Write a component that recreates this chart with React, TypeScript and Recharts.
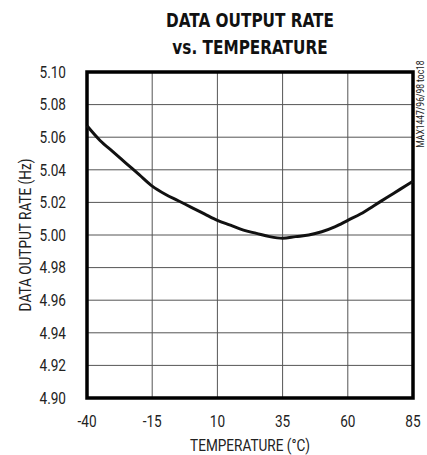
import { LineChart, Line, XAxis, YAxis, CartesianGrid, ReferenceArea, Label } from 'recharts';

const temperatures = [-40, -35, -30, -25, -20, -15, -10, -5, 0, 5, 10, 15, 20, 25, 30, 35, 40, 45, 50, 55, 60, 65, 70, 75, 80, 85];
const rates = [5.067, 5.058, 5.051, 5.044, 5.037, 5.030, 5.025, 5.021, 5.017, 5.013, 5.009, 5.006, 5.003, 5.001, 4.999, 4.998, 4.999, 5.000, 5.002, 5.005, 5.009, 5.013, 5.018, 5.023, 5.028, 5.033];

const xTicks = [-40, -15, 10, 35, 60, 85];
const yTicks = [4.9, 4.92, 4.94, 4.96, 4.98, 5.0, 5.02, 5.04, 5.06, 5.08, 5.1];

const titleLines = ['DATA OUTPUT RATE', 'vs. TEMPERATURE'];
const xLabel = 'TEMPERATURE (°C)';
const yLabel = 'DATA OUTPUT RATE (Hz)';
const sideNote = 'MAX1447/96/98 toc18';

const data = temperatures.map((t, i) => ({ t, rate: rates[i] }));

const font = 'Roboto, sans-serif';
const titleFont = '"DejaVu Sans Condensed", "DejaVu Sans", sans-serif';
const squeeze = 0.85;

// narrow tick text, the reference uses a condensed face
const NarrowTick = (props: any) => {
  const { x, y, payload, textAnchor, vertical } = props;
  const label = vertical ? Number(payload.value).toFixed(2) : String(payload.value);
  return (
    <g transform={`translate(${x},${y})`}>
      <text
        transform={`scale(${squeeze},1)`}
        textAnchor={textAnchor}
        dy={vertical ? '0.36em' : '0.71em'}
        fill="#222"
        fontSize={16}
        fontFamily={font}
      >
        {label}
      </text>
    </g>
  );
};

const axisTitle = (text: string, rotate: boolean, dx: number, dy: number) => (props: any) => {
  const vb = props.viewBox;
  const cx = vb.x + vb.width / 2 + dx;
  const cy = vb.y + vb.height / 2 + dy;
  return (
    <g transform={`translate(${cx},${cy}) rotate(${rotate ? -90 : 0}) scale(${squeeze},1)`}>
      <text textAnchor="middle" dy="0.36em" fill="#222" fontSize={16} fontFamily={font}>
        {text}
      </text>
    </g>
  );
};

export default function App() {
  return (
    <div style={{ position: 'absolute', left: 0, top: 0, width: 427, height: 455, background: '#fff', fontFamily: font }}>
      <div
        style={{
          position: 'absolute',
          left: 87,
          width: 326,
          top: 7,
          textAlign: 'center',
          fontWeight: 'bold',
          fontFamily: titleFont,
          fontSize: 20,
          lineHeight: '27px',
          color: '#111',
          transform: `scaleX(${squeeze})`,
        }}
      >
        {titleLines.map((l) => (
          <div key={l}>{l}</div>
        ))}
      </div>
      <LineChart width={427} height={455} data={data} margin={{ top: 72, right: 14, bottom: 0, left: 0 }}>
        <CartesianGrid stroke="#555" strokeWidth={1} />
        <XAxis
          dataKey="t"
          type="number"
          domain={[-40, 85]}
          ticks={xTicks}
          height={57}
          tickLine={false}
          axisLine={false}
          tickMargin={12}
          tick={<NarrowTick />}
        >
          <Label content={axisTitle(xLabel, false, 0, 19)} />
        </XAxis>
        <YAxis
          type="number"
          domain={[4.9, 5.1]}
          ticks={yTicks}
          width={87}
          tickLine={false}
          axisLine={false}
          tickMargin={15}
          tick={<NarrowTick vertical />}
        >
          <Label content={axisTitle(yLabel, true, -18, 0)} />
        </YAxis>
        <Line type="monotone" dataKey="rate" stroke="#111" strokeWidth={3} dot={false} isAnimationActive={false} />
        <ReferenceArea x1={-40} x2={85} y1={4.9} y2={5.1} fill="none" stroke="#000" strokeWidth={3.5} ifOverflow="visible" />
      </LineChart>
      <div
        style={{
          position: 'absolute',
          left: 420,
          top: 104,
          transform: 'translate(-50%, -50%) rotate(-90deg) scaleX(0.85)',
          fontSize: 10,
          whiteSpace: 'nowrap',
          color: '#222',
        }}
      >
        {sideNote}
      </div>
    </div>
  );
}
